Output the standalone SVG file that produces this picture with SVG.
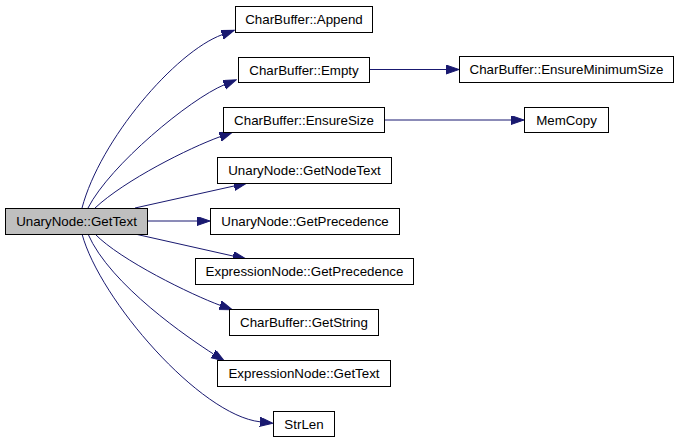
<svg xmlns="http://www.w3.org/2000/svg" width="679" height="443" viewBox="0 0 679 443">
<style>
.n rect{fill:#fff;stroke:#000;stroke-width:1}
.n.hl rect{fill:#bfbfbf}
.n text{font-family:"Liberation Sans",Arial,sans-serif;font-size:13.33px;text-anchor:middle;fill:#000}
.e path{fill:none;stroke:#191970;stroke-width:1;marker-end:url(#ah)}
</style>
<defs>
<marker id="ah" markerWidth="14" markerHeight="10" refX="0" refY="4.5" orient="auto" markerUnits="userSpaceOnUse">
<path d="M0,0 L13,4.5 L0,9 z" fill="#191970" stroke="#191970" stroke-width="1"/>
</marker>
</defs>
<g id="edges" class="e">
<path d="M82,208 C100,140 175,52 222.1,34.7"/>
<path d="M88,208 C110,165 190,99 224.2,84.8"/>
<path d="M95,208 C125,180 189,148 220.1,136.7"/>
<path d="M135,208 L234,186"/>
<path d="M147,221 L197,221"/>
<path d="M135,234 L233,256"/>
<path d="M95,234 C120,260 192,295 220.1,305.3"/>
<path d="M88,234 C110,285 190,339 213.3,353.9"/>
<path d="M82,234 C100,300 200,415 260,421.8"/>
<path d="M369,69.5 L446,69.5"/>
<path d="M384,120 L511,120"/>
</g>
<g id="n0" class="n hl"><rect x="5.5" y="208.5" width="142" height="26"/><text x="76.5" y="226">UnaryNode::GetText</text></g>
<g id="n1" class="n"><rect x="235.5" y="6.5" width="137" height="26"/><text x="304" y="24">CharBuffer::Append</text></g>
<g id="n2" class="n"><rect x="238.5" y="57.5" width="131" height="25"/><text x="304" y="75">CharBuffer::Empty</text></g>
<g id="n3" class="n"><rect x="223.5" y="107.5" width="161" height="25"/><text x="304" y="125">CharBuffer::EnsureSize</text></g>
<g id="n4" class="n"><rect x="217.5" y="157.5" width="174" height="26"/><text x="304.5" y="175">UnaryNode::GetNodeText</text></g>
<g id="n5" class="n"><rect x="210.5" y="208.5" width="189" height="26"/><text x="305" y="226">UnaryNode::GetPrecedence</text></g>
<g id="n6" class="n"><rect x="195.5" y="258.5" width="218" height="26"/><text x="304.5" y="276">ExpressionNode::GetPrecedence</text></g>
<g id="n7" class="n"><rect x="229.5" y="309.5" width="149" height="26"/><text x="304" y="327">CharBuffer::GetString</text></g>
<g id="n8" class="n"><rect x="217.5" y="360.5" width="173" height="26"/><text x="304" y="378">ExpressionNode::GetText</text></g>
<g id="n9" class="n"><rect x="273.5" y="411.5" width="61" height="25"/><text x="304" y="429">StrLen</text></g>
<g id="n10" class="n"><rect x="459.5" y="56.5" width="214" height="26"/><text x="566.5" y="74">CharBuffer::EnsureMinimumSize</text></g>
<g id="n11" class="n"><rect x="524.5" y="107.5" width="84" height="25"/><text x="566.5" y="125">MemCopy</text></g>
</svg>
